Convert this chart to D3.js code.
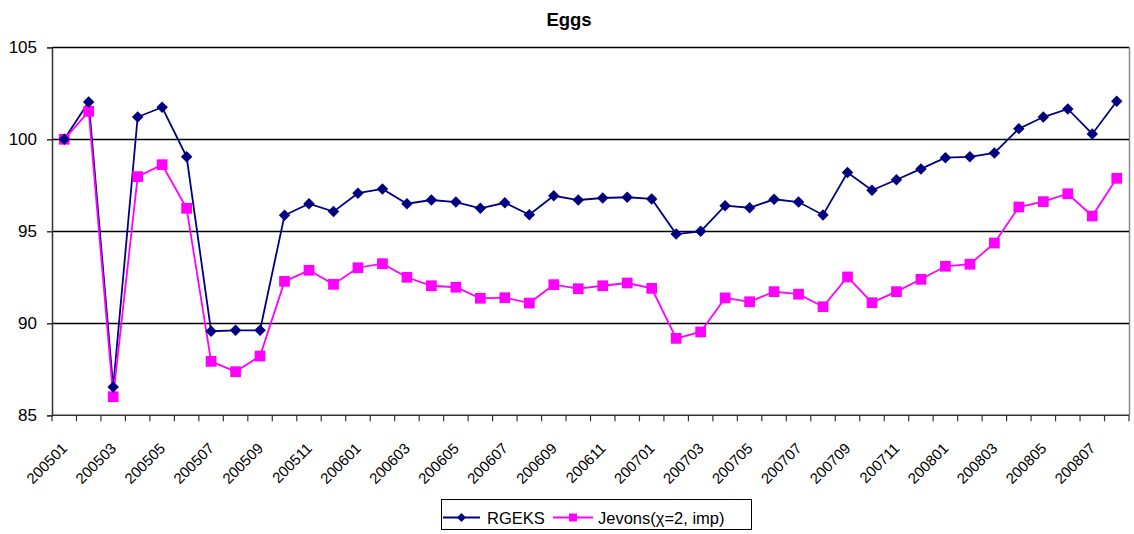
<!DOCTYPE html>
<html>
<head>
<meta charset="utf-8">
<script src="https://cdn.jsdelivr.net/npm/d3@7"></script>
<style>
  html, body { margin: 0; padding: 0; background: #fff; }
  svg { display: block; font-family: Arial, "Liberation Sans", sans-serif; }
</style>
</head>
<body>
<svg id="chart" width="1134" height="534"></svg>
<script>
// Monthly periods
const months = [
  "200501","200502","200503","200504","200505","200506","200507","200508","200509","200510","200511","200512",
  "200601","200602","200603","200604","200605","200606","200607","200608","200609","200610","200611","200612",
  "200701","200702","200703","200704","200705","200706","200707","200708","200709","200710","200711","200712",
  "200801","200802","200803","200804","200805","200806","200807","200808"
];

// Index series
const rgeks = [
  100, 102.03, 86.54, 101.21, 101.74, 99.05, 89.57, 89.62, 89.62, 95.87, 96.5, 96.07,
  97.07, 97.3, 96.5, 96.7, 96.59, 96.25, 96.55, 95.9, 96.93, 96.7, 96.81, 96.85,
  96.76, 94.85, 95.0, 96.39, 96.28, 96.74, 96.59, 95.89, 98.19, 97.23, 97.8, 98.39,
  99.0, 99.05, 99.26, 100.58, 101.21, 101.65, 100.29, 102.07
];
const jevons = [
  100, 101.52, 86.01, 97.97, 98.62, 96.25, 87.93, 87.37, 88.22, 92.28, 92.88, 92.12,
  93.02, 93.24, 92.5, 92.04, 91.96, 91.36, 91.39, 91.1, 92.1, 91.88, 92.04, 92.19,
  91.9, 89.18, 89.53, 91.38, 91.17, 91.72, 91.58, 90.9, 92.52, 91.12, 91.72, 92.39,
  93.1, 93.21, 94.36, 96.32, 96.61, 97.04, 95.83, 97.88
];

const yTicks = [85, 90, 95, 100, 105];
const seriesNames = ["RGEKS", "Jevons(\u03C7=2, imp)"];
const title = "Eggs";

const svg = d3.select("#chart");
const plot = { left: 52, right: 1129, top: 47.3, bottom: 415.3 };

const x = d3.scaleBand().domain(months).range([plot.left, plot.right]).padding(0);
const y = d3.scaleLinear().domain([85, 105]).range([plot.bottom, plot.top]);
const cx = d => x(d) + x.bandwidth() / 2;

// Title
svg.append("text")
  .attr("x", 569).attr("y", 26)
  .attr("text-anchor", "middle")
  .attr("font-size", 18.5).attr("font-weight", "bold")
  .text(title);

// Plot area frame (right edge)
svg.append("line")
  .attr("x1", plot.right + 0.5).attr("x2", plot.right + 0.5)
  .attr("y1", plot.top).attr("y2", plot.bottom)
  .attr("stroke", "#888").attr("stroke-width", 1.5);

// Horizontal gridlines
svg.append("g")
  .selectAll("line")
  .data(yTicks.filter(t => t !== 85))
  .join("line")
  .attr("x1", plot.left).attr("x2", plot.right)
  .attr("y1", d => Math.round(y(d)) + 0.5).attr("y2", d => Math.round(y(d)) + 0.5)
  .attr("stroke", "#000").attr("stroke-width", 1.3);

// Y axis
const yAxis = svg.append("g")
  .attr("transform", `translate(${plot.left},0)`)
  .call(d3.axisLeft(y).tickValues(yTicks).tickSize(5).tickPadding(10).tickFormat(d3.format("d")));
yAxis.selectAll("text").attr("font-size", 17).attr("fill", "#000")
  .attr("font-family", "Arial, 'Liberation Sans', sans-serif");
yAxis.selectAll("line, path").attr("stroke", "#333").attr("stroke-width", 1.5);

// X axis: ticks at category boundaries, labels every second month
const xAxisG = svg.append("g").attr("transform", `translate(0,${plot.bottom})`);
xAxisG.append("line")
  .attr("x1", plot.left).attr("x2", plot.right)
  .attr("y1", 0).attr("y2", 0)
  .attr("stroke", "#333").attr("stroke-width", 1.5);
const boundaries = months.map(m => x(m)).concat([plot.right]);
xAxisG.selectAll("line.tick")
  .data(boundaries)
  .join("line")
  .attr("class", "tick")
  .attr("x1", d => d).attr("x2", d => d)
  .attr("y1", 0).attr("y2", 6)
  .attr("stroke", "#333").attr("stroke-width", 1.2);
xAxisG.selectAll("text")
  .data(months.filter((m, i) => i % 2 === 0))
  .join("text")
  .attr("transform", d => `translate(${cx(d) + 4},${34}) rotate(-45)`)
  .attr("text-anchor", "end")
  .attr("font-size", 15)
  .attr("fill", "#000")
  .text(d => d);

// Series
const line = d3.line().x((d, i) => cx(months[i])).y(d => y(d));
const navy = "#000080", magenta = "#FF00FF";

svg.append("path").datum(rgeks)
  .attr("d", line).attr("fill", "none").attr("stroke", navy).attr("stroke-width", 1.8);
svg.append("path").datum(jevons)
  .attr("d", line).attr("fill", "none").attr("stroke", magenta).attr("stroke-width", 1.8);

const diamond = d3.symbol().type(d3.symbolDiamond2).size(84);
const square = d3.symbol().type(d3.symbolSquare).size(115);

svg.append("g").selectAll("path")
  .data(jevons)
  .join("path")
  .attr("transform", (d, i) => `translate(${cx(months[i])},${y(d)})`)
  .attr("d", square)
  .attr("fill", magenta);

svg.append("g").selectAll("path")
  .data(rgeks)
  .join("path")
  .attr("transform", (d, i) => `translate(${cx(months[i])},${y(d)})`)
  .attr("d", diamond)
  .attr("fill", navy);

// Legend
const legend = svg.append("g");
legend.append("rect")
  .attr("x", 441.5).attr("y", 499.5).attr("width", 310).attr("height", 30)
  .attr("fill", "#fff").attr("stroke", "#000").attr("stroke-width", 1);
const items = [
  { name: seriesNames[0], color: navy, sym: d3.symbol().type(d3.symbolDiamond2).size(50), x0: 443, x1: 480, tx: 487 },
  { name: seriesNames[1], color: magenta, sym: d3.symbol().type(d3.symbolSquare).size(64), x0: 553, x1: 593, tx: 598 }
];
items.forEach(it => {
  legend.append("line")
    .attr("x1", it.x0).attr("x2", it.x1)
    .attr("y1", 517.5).attr("y2", 517.5)
    .attr("stroke", it.color).attr("stroke-width", 1.8);
  legend.append("path")
    .attr("transform", `translate(${(it.x0 + it.x1) / 2},517.5)`)
    .attr("d", it.sym).attr("fill", it.color);
  legend.append("text")
    .attr("x", it.tx).attr("y", 523.5)
    .attr("font-size", 16.5).attr("fill", "#000")
    .text(it.name);
});
</script>
</body>
</html>
